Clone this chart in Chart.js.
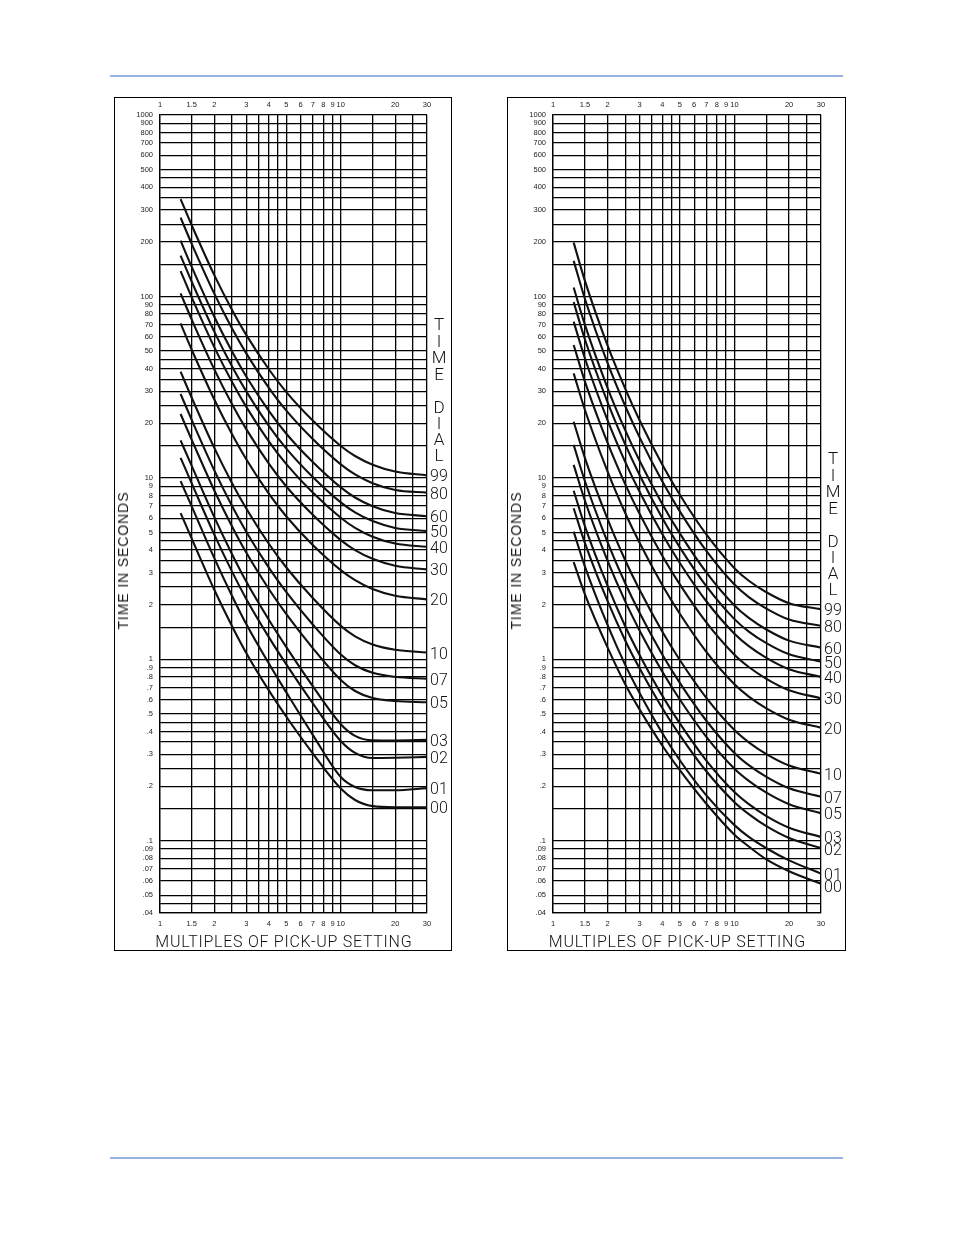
<!DOCTYPE html>
<html><head><meta charset="utf-8">
<script src="https://cdn.jsdelivr.net/npm/chart.js@4.4.0/dist/chart.umd.min.js"></script>
<style>
html,body{margin:0;padding:0;background:#fff;}
body{width:954px;height:1235px;position:relative;overflow:hidden;font-family:"Liberation Sans",Arial,sans-serif;}
.rule{position:absolute;left:110px;width:733px;height:1.5px;background:#93b3e0;}
.frame{position:absolute;border:1px solid #000;box-sizing:border-box;}
.cv{position:absolute;}
.lbl{position:absolute;font-family:Roboto,"Liberation Sans",sans-serif;font-weight:300;font-size:16px;line-height:16px;color:#111;white-space:nowrap;}
.ttl{position:absolute;font-family:Roboto,"Liberation Sans",sans-serif;font-weight:300;color:#111;white-space:nowrap;line-height:1;}
</style></head><body>
<div class="rule" style="top:75px"></div>
<div class="rule" style="top:1157px"></div>
<div class="frame" style="left:114px;top:97px;width:338px;height:854px"></div>
<div class="frame" style="left:507px;top:97px;width:339px;height:854px"></div>
<canvas id="c1" class="cv" style="left:114px;top:97px" width="337" height="853"></canvas>
<canvas id="c2" class="cv" style="left:507px;top:97px" width="338" height="853"></canvas>
<script>
// ---------- data ----------
const multiples = [1.3, 1.5, 2, 2.5, 3, 4, 5, 7, 10, 12, 15, 20, 30];
const dialLabels = ['99','80','60','50','40','30','20','10','07','05','03','02','01','00'];

const xGridValues = [1,1.5,2,2.5,3,3.5,4,4.5,5,6,7,8,9,10,15,20,25,30];
const xLabelValues = [1,1.5,2,3,4,5,6,7,8,9,10,20,30];
const yGridValues = [0.04,0.045,0.05,0.06,0.07,0.08,0.09,0.1,0.15,0.2,0.25,0.3,0.35,0.4,0.45,0.5,0.6,0.7,0.8,0.9,
  1,1.5,2,2.5,3,3.5,4,4.5,5,6,7,8,9,10,15,20,25,30,35,40,45,50,60,70,80,90,
  100,150,200,250,300,350,400,450,500,600,700,800,900,1000];
const yLabelValues = [0.04,0.05,0.06,0.07,0.08,0.09,0.1,0.2,0.3,0.4,0.5,0.6,0.7,0.8,0.9,
  1,2,3,4,5,6,7,8,9,10,20,30,40,50,60,70,80,90,100,200,300,400,500,600,700,800,900,1000];

// left chart curves (time in seconds at each multiple of pick-up)
const left99 = [344, 246, 130.6, 84.5, 61.4, 39.7, 29.7, 20.7, 15.0, 13.2, 11.83, 10.85, 10.33];
const left80 = [272, 194.4, 103.3, 66.8, 48.55, 31.36, 23.47, 16.37, 11.88, 10.46, 9.35, 8.58, 8.3];
const left60 = [203, 145.1, 77.1, 49.86, 36.24, 23.41, 17.51, 12.22, 8.86, 7.8, 6.98, 6.4, 6.15];
const left50 = [168, 120.1, 63.8, 41.26, 29.99, 19.37, 14.5, 10.11, 7.33, 6.46, 5.78, 5.3, 5.1];
const left40 = [138, 98.6, 52.4, 33.89, 24.63, 15.91, 11.91, 8.3, 6.03, 5.3, 4.74, 4.35, 4.17];
const left30 = [104, 74.3, 39.5, 25.54, 18.56, 11.99, 8.97, 6.26, 4.54, 4.0, 3.58, 3.28, 3.13];
const left20 = [71, 50.7, 26.96, 17.44, 12.67, 8.19, 6.13, 4.27, 3.1, 2.73, 2.44, 2.24, 2.14];
const left10 = [38.5, 27.56, 14.59, 9.38, 6.78, 4.336, 3.207, 2.177, 1.529, 1.34, 1.209, 1.13, 1.09];
const left07 = [29, 20.8, 10.97, 7.02, 5.05, 3.2, 2.345, 1.556, 1.063, 0.928, 0.843, 0.801, 0.781];
const left05 = [22.5, 16.16, 8.5, 5.42, 3.877, 2.442, 1.773, 1.153, 0.77, 0.669, 0.612, 0.5895, 0.58];
const left03 = [16.1, 11.61, 6.057, 3.808, 2.684, 1.652, 1.167, 0.711, 0.4393, 0.379, 0.358, 0.357, 0.36];
const left02 = [12.9, 9.3, 4.854, 3.053, 2.153, 1.326, 0.9376, 0.5728, 0.3546, 0.305, 0.286, 0.287, 0.29];
const left01 = [9.6, 6.944, 3.601, 2.243, 1.565, 0.948, 0.6574, 0.3837, 0.2248, 0.198, 0.19, 0.19, 0.195];
const left00 = [6.4, 4.61, 2.41, 1.527, 1.084, 0.674, 0.4825, 0.3032, 0.1942, 0.1678, 0.1552, 0.153, 0.153];

// right chart curves
const right99 = [198, 121.8, 53.6, 31.06, 20.8, 11.87, 8.08, 4.88, 3.18, 2.71, 2.344, 2.04, 1.89];
const right80 = [157, 96.86, 42.88, 24.89, 16.73, 9.58, 6.54, 3.959, 2.585, 2.204, 1.905, 1.657, 1.53];
const right60 = [112, 69.65, 31.29, 18.32, 12.42, 7.19, 4.943, 3.015, 1.983, 1.692, 1.461, 1.268, 1.16];
const right50 = [93, 57.92, 26.08, 15.29, 10.38, 6.017, 4.143, 2.531, 1.666, 1.422, 1.228, 1.066, 0.973];
const right40 = [72.6, 45.52, 20.76, 12.26, 8.384, 4.903, 3.398, 2.09, 1.384, 1.183, 1.02, 0.883, 0.80];
const right30 = [54, 33.96, 15.59, 9.24, 6.339, 3.722, 2.587, 1.597, 1.06, 0.907, 0.781, 0.676, 0.61];
const right20 = [37.7, 23.67, 10.83, 6.405, 4.386, 2.57, 1.783, 1.099, 0.728, 0.6225, 0.5366, 0.4647, 0.42];
const right10 = [20.4, 12.86, 5.922, 3.518, 2.418, 1.424, 0.9916, 0.6133, 0.4076, 0.3489, 0.3006, 0.26, 0.234];
const right07 = [15.2, 9.585, 4.418, 2.626, 1.806, 1.064, 0.7413, 0.4588, 0.305, 0.2611, 0.2249, 0.1946, 0.175];
const right05 = [11.8, 7.485, 3.488, 2.086, 1.444, 0.8573, 0.6005, 0.3738, 0.2497, 0.214, 0.1841, 0.1591, 0.142];
const right03 = [8.5, 5.41, 2.538, 1.523, 1.058, 0.631, 0.4434, 0.2769, 0.1855, 0.1591, 0.1368, 0.1181, 0.105];
const right02 = [6.8, 4.374, 2.092, 1.271, 0.892, 0.5396, 0.3827, 0.2416, 0.1632, 0.1403, 0.1204, 0.1036, 0.091];
const right01 = [5.06, 3.244, 1.542, 0.9326, 0.6527, 0.3929, 0.2779, 0.178, 0.122, 0.105, 0.091, 0.078, 0.066];
const right00 = [3.43, 2.28, 1.16, 0.73, 0.53, 0.335, 0.245, 0.16, 0.108, 0.093, 0.079, 0.068, 0.058];

const leftSeries = [left99, left80, left60, left50, left40, left30, left20, left10, left07, left05, left03, left02, left01, left00];
const rightSeries = [right99, right80, right60, right50, right40, right30, right20, right10, right07, right05, right03, right02, right01, right00];

const timeDialLetters = ['T','I','M','E','D','I','A','L'];
const timeDialOffsets = [-152,-135,-119,-102,-69,-53,-37,-21];
const xTitle = 'MULTIPLES OF PICK-UP SETTING';
const yTitle = 'TIME IN SECONDS';

// ---------- helpers ----------
const xLabelSet = new Set(xLabelValues);
const yLabelSet = new Set(yLabelValues);
const fmtY = v => v < 1 ? String(v).replace(/^0/, '') : String(v);
const gridStyle = {color:'#000', lineWidth:1.3, drawTicks:false};
const tickFont = {family:'"Liberation Sans", Arial, sans-serif', size:7.5};

function addText(text, cx, cy, size, rotate, targetWidth, family) {
  const d = document.createElement('div');
  d.className = 'ttl';
  d.style.fontSize = size + 'px';
  if (family) { d.style.fontFamily = family; d.style.fontWeight = 400; d.style.color = '#1a1a1a'; }
  d.textContent = text;
  document.body.appendChild(d);
  const w = d.getBoundingClientRect().width;
  if (targetWidth) {
    const ls = (targetWidth - w) / text.length;
    d.style.letterSpacing = ls + 'px';
    d.style.paddingLeft = ls + 'px';
  }
  d.style.left = cx + 'px';
  d.style.top = cy + 'px';
  d.style.transform = 'translate(-50%,-50%)' + (rotate ? ' rotate(' + rotate + 'deg)' : '');
  return d;
}

function makeChart(id, series, pageLeft, pageTop) {
  const canvas = document.getElementById(id);
  const datasets = series.map((vals, i) => ({
    label: dialLabels[i],
    data: multiples.map((m, j) => ({x: m, y: vals[j]})),
    borderColor: '#111',
    borderWidth: 2.1,
    pointRadius: 0,
    fill: false,
    cubicInterpolationMode: 'monotone'
  }));
  const chart = new Chart(canvas, {
    type: 'line',
    data: {datasets},
    options: {
      responsive: false,
      animation: false,
      events: [],
      layout: {padding: {left: 0, right: 24, top: 0, bottom: 0}},
      plugins: {legend: {display: false}, tooltip: {enabled: false}},
      scales: {
        x: {
          type: 'logarithmic', position: 'bottom', min: 1, max: 30,
          afterBuildTicks: s => { s.ticks = xGridValues.map(v => ({value: v})); },
          afterFit: s => { s.height = 37; },
          ticks: {autoSkip: false, maxRotation: 0, minRotation: 0, padding: 6, color: '#222', font: tickFont,
                  callback: v => xLabelSet.has(v) ? String(v) : ''},
          grid: gridStyle,
          border: {display: true, color: '#000', width: 1.3}
        },
        xTop: {
          type: 'logarithmic', position: 'top', min: 1, max: 30,
          afterBuildTicks: s => { s.ticks = xGridValues.map(v => ({value: v})); },
          afterFit: s => { s.height = 18; },
          ticks: {autoSkip: false, maxRotation: 0, minRotation: 0, padding: 6, color: '#222', font: tickFont,
                  callback: v => xLabelSet.has(v) ? String(v) : ''},
          grid: {display: false, drawTicks: false},
          border: {display: false}
        },
        y: {
          type: 'logarithmic', position: 'left', min: 0.04, max: 1000,
          afterBuildTicks: s => { s.ticks = yGridValues.map(v => ({value: v})); },
          afterFit: s => { s.width = 46; },
          ticks: {autoSkip: false, padding: 7, color: '#222', font: tickFont,
                  callback: v => yLabelSet.has(v) ? fmtY(v) : ''},
          grid: gridStyle,
          border: {display: true, color: '#000', width: 1.3}
        }
      }
    }
  });

  const xs = chart.scales.x, ys = chart.scales.y;
  // axis titles
  addText(xTitle, pageLeft + (xs.left + xs.right) / 2 - 10, pageTop + 845, 16, 0, 257);
  addText(yTitle, pageLeft + 9, pageTop + 464, 14, -90, 138, '"Liberation Sans", Arial, sans-serif');

  // dial labels at the right end of each curve, placed through the scales
  let prev = -1e9;
  const centers = [];
  series.forEach((vals, i) => {
    let c = ys.getPixelForValue(vals[vals.length - 1]) + 1;
    if (c < prev + 12) c = prev + 12;
    prev = c;
    centers.push(c);
    const d = document.createElement('div');
    d.className = 'lbl';
    d.textContent = dialLabels[i];
    d.style.left = (pageLeft + xs.right + 3) + 'px';
    d.style.top = (pageTop + c - 8) + 'px';
    document.body.appendChild(d);
  });
  timeDialLetters.forEach((ch, k) => {
    const d = document.createElement('div');
    d.className = 'lbl';
    d.style.fontSize = '17px';
    d.style.width = '16px';
    d.style.textAlign = 'center';
    d.textContent = ch;
    d.style.left = (pageLeft + xs.right + 4) + 'px';
    d.style.top = (pageTop + centers[0] + timeDialOffsets[k] - 8) + 'px';
    document.body.appendChild(d);
  });
  return chart;
}

makeChart('c1', leftSeries, 114, 97);
makeChart('c2', rightSeries, 507, 97);
</script>
</body></html>
